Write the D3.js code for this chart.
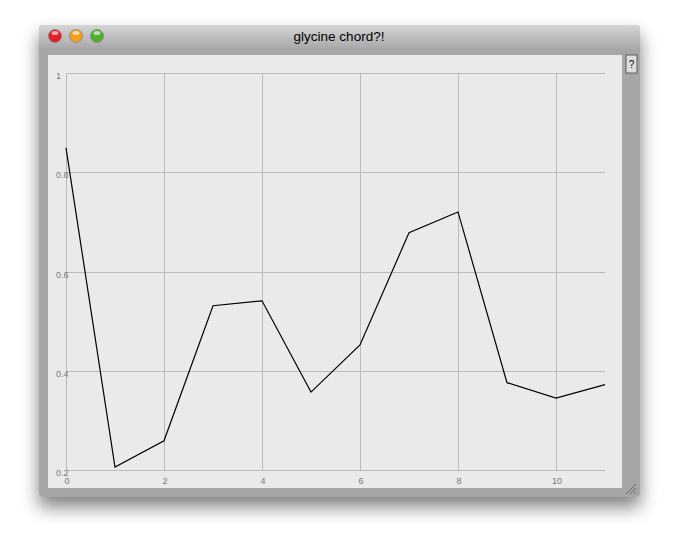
<!DOCTYPE html><html><head><script src="https://cdn.jsdelivr.net/npm/d3@7"></script>
<style>body{margin:0;background:#fff;font-family:"Liberation Sans",Arial,sans-serif}</style></head><body><svg id="c" width="680" height="552"></svg>
<script>
const xs=[0,1,2,3,4,5,6,7,8,9,10,11];
const ys=[0.849,0.206,0.259,0.531,0.541,0.357,0.452,0.678,0.720,0.376,0.345,0.372];
const xTicks=[0,2,4,6,8,10];
const yTicks=[0.2,0.4,0.6,0.8,1];
const title="glycine chord?!";
const svg=d3.select("#c");
const defs=svg.append("defs");
const f=defs.append("filter").attr("id","sh").attr("x","-20%").attr("y","-20%").attr("width","140%").attr("height","150%");
f.append("feGaussianBlur").attr("in","SourceAlpha").attr("stdDeviation",9);
f.append("feOffset").attr("dy",10).attr("result","b");
f.append("feComponentTransfer").append("feFuncA").attr("type","linear").attr("slope",0.5);
const m=f.append("feMerge");m.append("feMergeNode");m.append("feMergeNode").attr("in","SourceGraphic");
const tg=defs.append("linearGradient").attr("id","tb").attr("x1",0).attr("y1",0).attr("x2",0).attr("y2",1);
tg.append("stop").attr("offset",0).attr("stop-color","#d6d6d6");tg.append("stop").attr("offset",1).attr("stop-color","#a8a8a8");
svg.append("rect").attr("x",39).attr("y",25).attr("width",601).attr("height",472).attr("rx",4).attr("fill","#a6a6a6").attr("filter","url(#sh)");
svg.append("rect").attr("x",39).attr("y",25).attr("width",601).attr("height",24).attr("rx",4).attr("fill","url(#tb)");
svg.append("rect").attr("x",48).attr("y",55).attr("width",574).attr("height",433).attr("fill","#eaeaea");
[["#e0202c",55],["#f0a020",76],["#50b030",97]].forEach(([c,x])=>{
 svg.append("circle").attr("cx",x).attr("cy",36).attr("r",6.5).attr("fill",c).attr("stroke","#777").attr("stroke-width",0.6);
 svg.append("ellipse").attr("cx",x).attr("cy",33).attr("rx",3.5).attr("ry",2).attr("fill","#fff").attr("opacity",0.6);});
svg.append("text").attr("x",339).attr("y",41).attr("text-anchor","middle").attr("font-size",13.5).attr("fill","#000").text(title);
svg.append("rect").attr("x",626).attr("y",55).attr("width",11).attr("height",18).attr("fill","#ddd").attr("stroke","#444").attr("stroke-width",0.8);
svg.append("text").attr("x",631.5).attr("y",68).attr("text-anchor","middle").attr("font-size",10).text("?");
for(let i=0;i<3;i++)svg.append("line").attr("x1",626+i*4).attr("y1",494).attr("x2",636).attr("y2",484+i*4).attr("stroke","#555").attr("stroke-width",0.8);
const x=d3.scaleLinear().domain([0,11]).range([66,605]);
const y=d3.scaleLinear().domain([0.2,1]).range([470,73]);
const g=svg.append("g");
g.selectAll(".v").data(xTicks).join("line").attr("x1",d=>Math.round(x(d))+0.5).attr("x2",d=>Math.round(x(d))+0.5).attr("y1",73).attr("y2",470).attr("stroke","#bbb").attr("stroke-width",1);
g.selectAll(".h").data(yTicks).join("line").attr("x1",66).attr("x2",605).attr("y1",d=>Math.round(y(d))+0.5).attr("y2",d=>Math.round(y(d))+0.5).attr("stroke","#bbb").attr("stroke-width",1);
g.selectAll(".xt").data(xTicks).join("text").attr("x",d=>x(d)+1).attr("y",484).attr("text-anchor","middle").attr("font-size",9).attr("fill","#777").text(d=>d);
g.selectAll(".yt").data(yTicks).join("text").attr("x",56).attr("y",d=>y(d)+6).attr("text-anchor","start").attr("font-size",9).attr("fill","#777").text(d=>d);
svg.append("path").datum(xs.map((d,i)=>[d,ys[i]])).attr("d",d3.line().x(d=>x(d[0])).y(d=>y(d[1]))).attr("fill","none").attr("stroke","#000").attr("stroke-width",1.2);
</script></body></html>
